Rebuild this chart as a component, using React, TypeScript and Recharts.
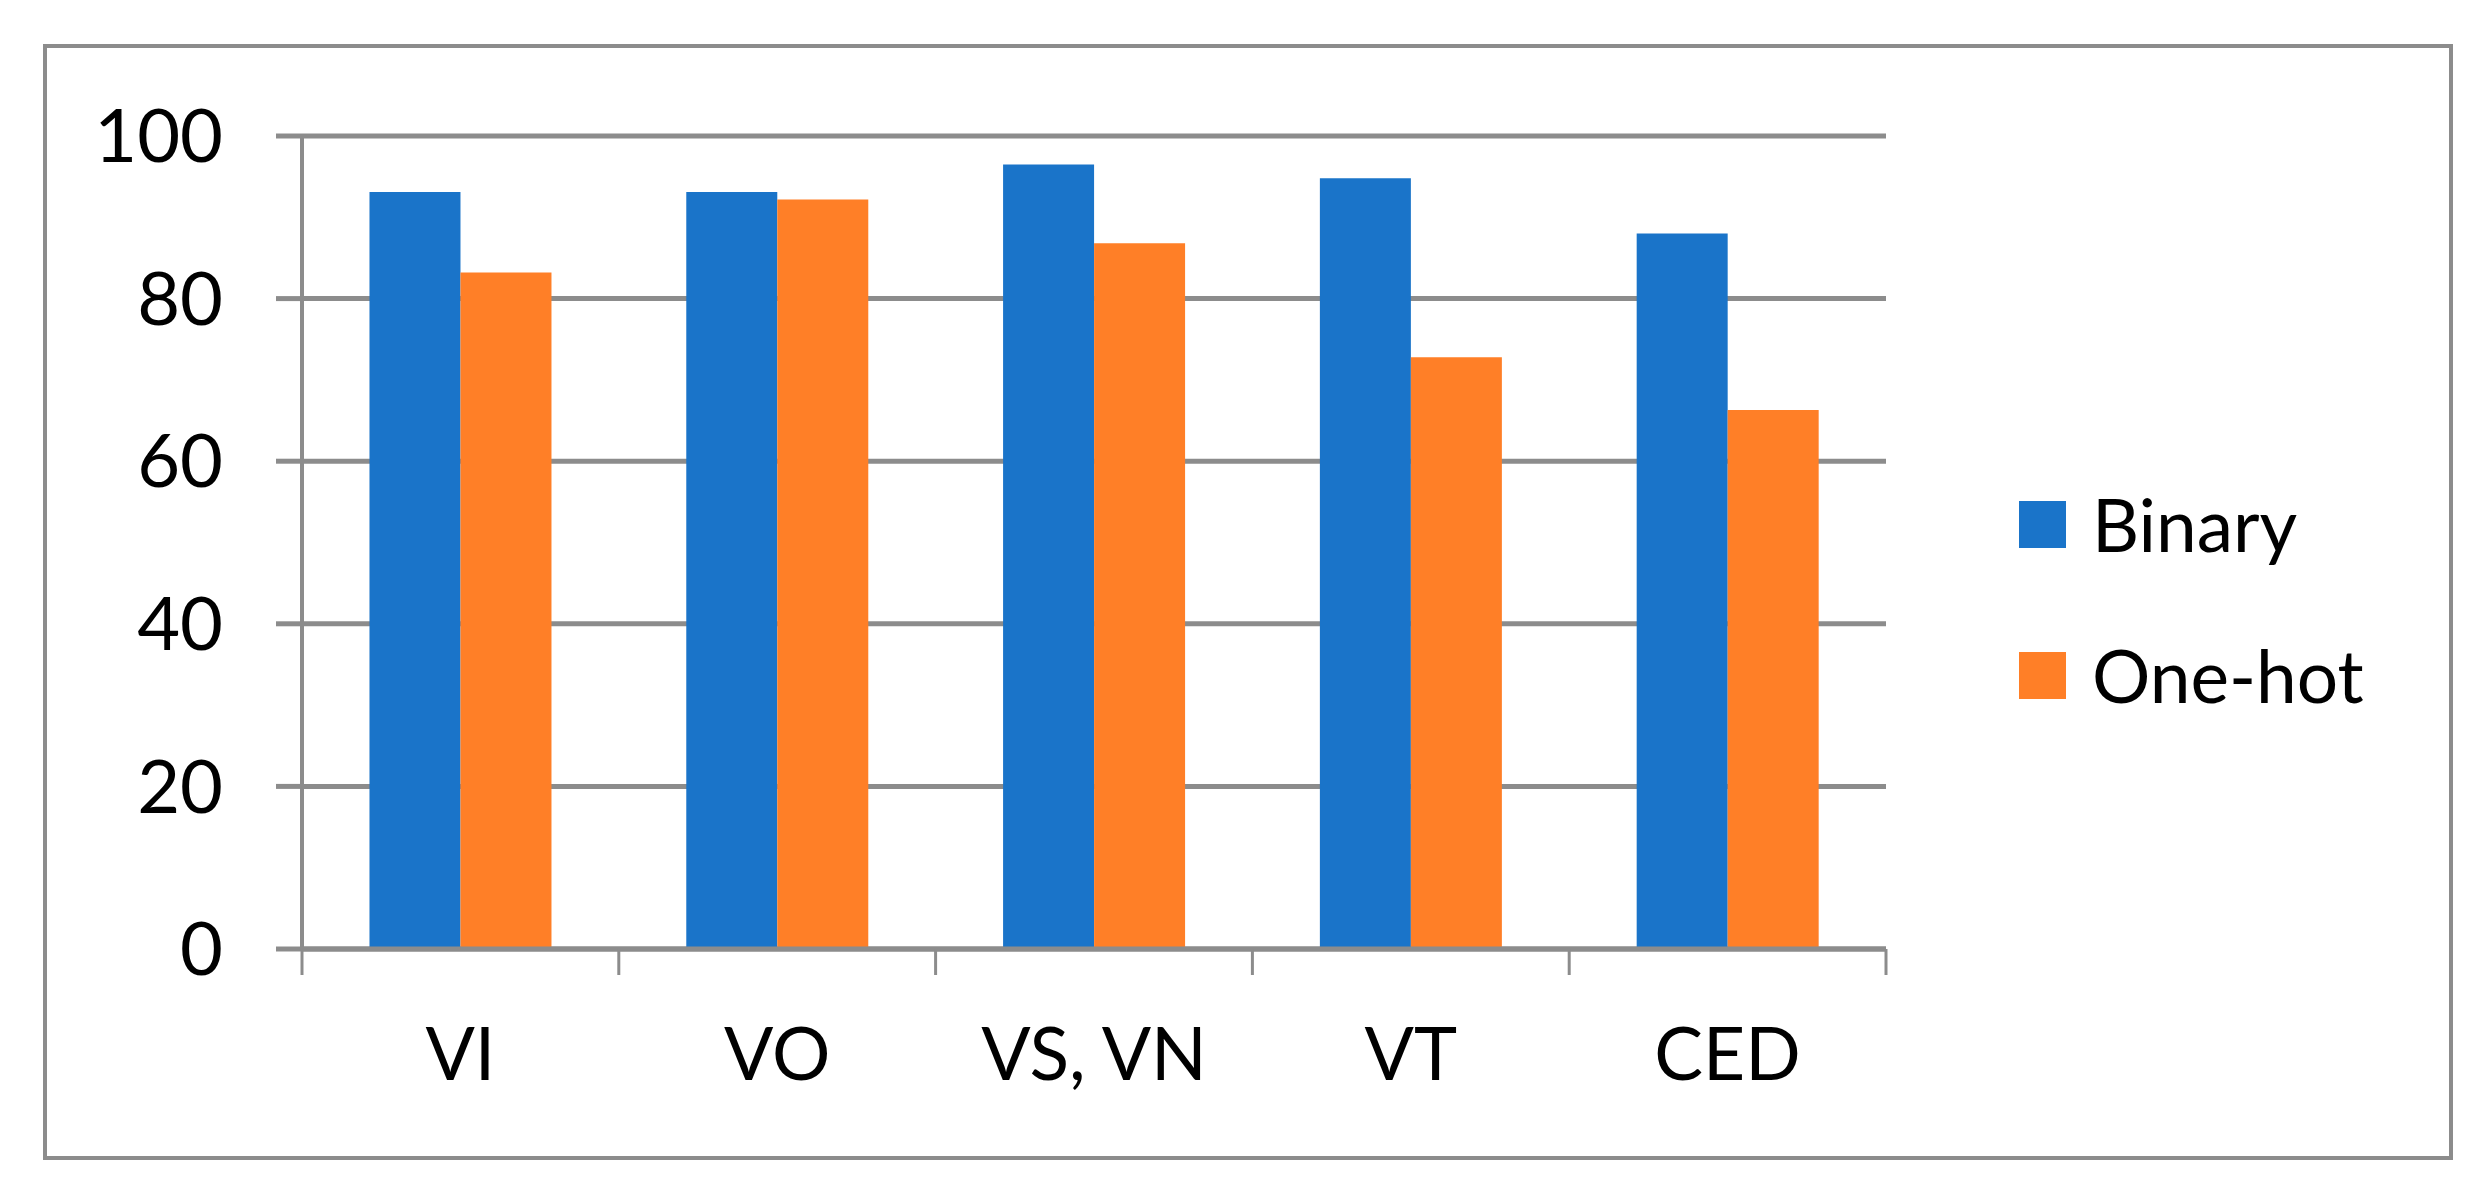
import React from 'react';
import { BarChart, Bar, XAxis, YAxis, CartesianGrid, Legend } from 'recharts';

const categories = ['VI', 'VO', 'VS, VN', 'VT', 'CED'];
const binaryValues = [93.1, 93.1, 96.5, 94.8, 88.0];
const oneHotValues = [83.2, 92.2, 86.8, 72.8, 66.3];
const yTicks = [0, 20, 40, 60, 80, 100];

const data = categories.map((name, i) => ({
  name,
  Binary: binaryValues[i],
  'One-hot': oneHotValues[i],
}));

const FONT = 'Lato, "Open Sans", sans-serif';
const GRAY = '#8c8c8c';
const BLUE = '#1a74c9';
const ORANGE = '#ff7f27';
const TICK_SIZE = 26;
const TICK_MARGIN = 53;

const XTick = (props: any) => {
  const { x, y, payload, index, visibleTicksCount, width } = props;
  const half = width / visibleTicksCount / 2;
  const axisY = y - TICK_SIZE - TICK_MARGIN;
  const lines = [x - half];
  if (index === visibleTicksCount - 1) lines.push(x + half);
  return (
    <g>
      {lines.map((lx, i) => (
        <line key={i} x1={lx} x2={lx} y1={axisY} y2={axisY + TICK_SIZE} stroke={GRAY} strokeWidth={3} />
      ))}
      <text x={x} y={y} dy="0.71em" textAnchor="middle" fill="#000" fontSize={73} fontFamily={FONT}>
        {payload.value}
      </text>
    </g>
  );
};

const LegendContent = (props: any) => {
  const { payload } = props;
  return (
    <div style={{ display: 'flex', flexDirection: 'column' }}>
      {payload.map((p: any) => (
        <div key={p.value} style={{ display: 'flex', alignItems: 'center', height: 151 }}>
          <div style={{ width: 47, height: 47, background: p.color, marginRight: 26 }} />
          <span style={{ fontFamily: FONT, fontSize: 73, color: '#000', lineHeight: 1.2 }}>{p.value}</span>
        </div>
      ))}
    </div>
  );
};

export default function App() {
  return (
    <div style={{ position: 'absolute', left: 0, top: 0, width: 2492, height: 1201, background: '#fff' }}>
      <div
        style={{
          position: 'absolute',
          left: 43,
          top: 44,
          width: 2410,
          height: 1116,
          border: `4px solid ${GRAY}`,
          boxSizing: 'border-box',
        }}
      />
      <div style={{ position: 'absolute', left: 0, top: 0 }}>
        <BarChart
          width={2492}
          height={1201}
          data={data}
          margin={{ top: 136, right: 606, bottom: 102, left: 0 }}
          barCategoryGap="21.3%"
          barGap={0}
        >
          <CartesianGrid vertical={false} stroke={GRAY} strokeWidth={5} />
          <XAxis
            dataKey="name"
            height={150}
            axisLine={{ stroke: GRAY, strokeWidth: 5 }}
            tickLine={{ stroke: 'none' }}
            tickSize={TICK_SIZE}
            tickMargin={TICK_MARGIN}
            tick={<XTick />}
            interval={0}
          />
          <YAxis
            width={302}
            domain={[0, 100]}
            ticks={yTicks}
            axisLine={{ stroke: GRAY, strokeWidth: 4 }}
            tickLine={{ stroke: GRAY, strokeWidth: 5 }}
            tickSize={26}
            tickMargin={53}
            tick={{ fill: '#000', fontSize: 74, fontFamily: FONT }}
          />
          <Legend
            layout="vertical"
            verticalAlign="middle"
            align="center"
            content={<LegendContent />}
            wrapperStyle={{ left: 2019, top: 449, width: 450 }}
          />
          <Bar dataKey="Binary" fill={BLUE} isAnimationActive={false} />
          <Bar dataKey="One-hot" fill={ORANGE} isAnimationActive={false} />
        </BarChart>
      </div>
    </div>
  );
}
